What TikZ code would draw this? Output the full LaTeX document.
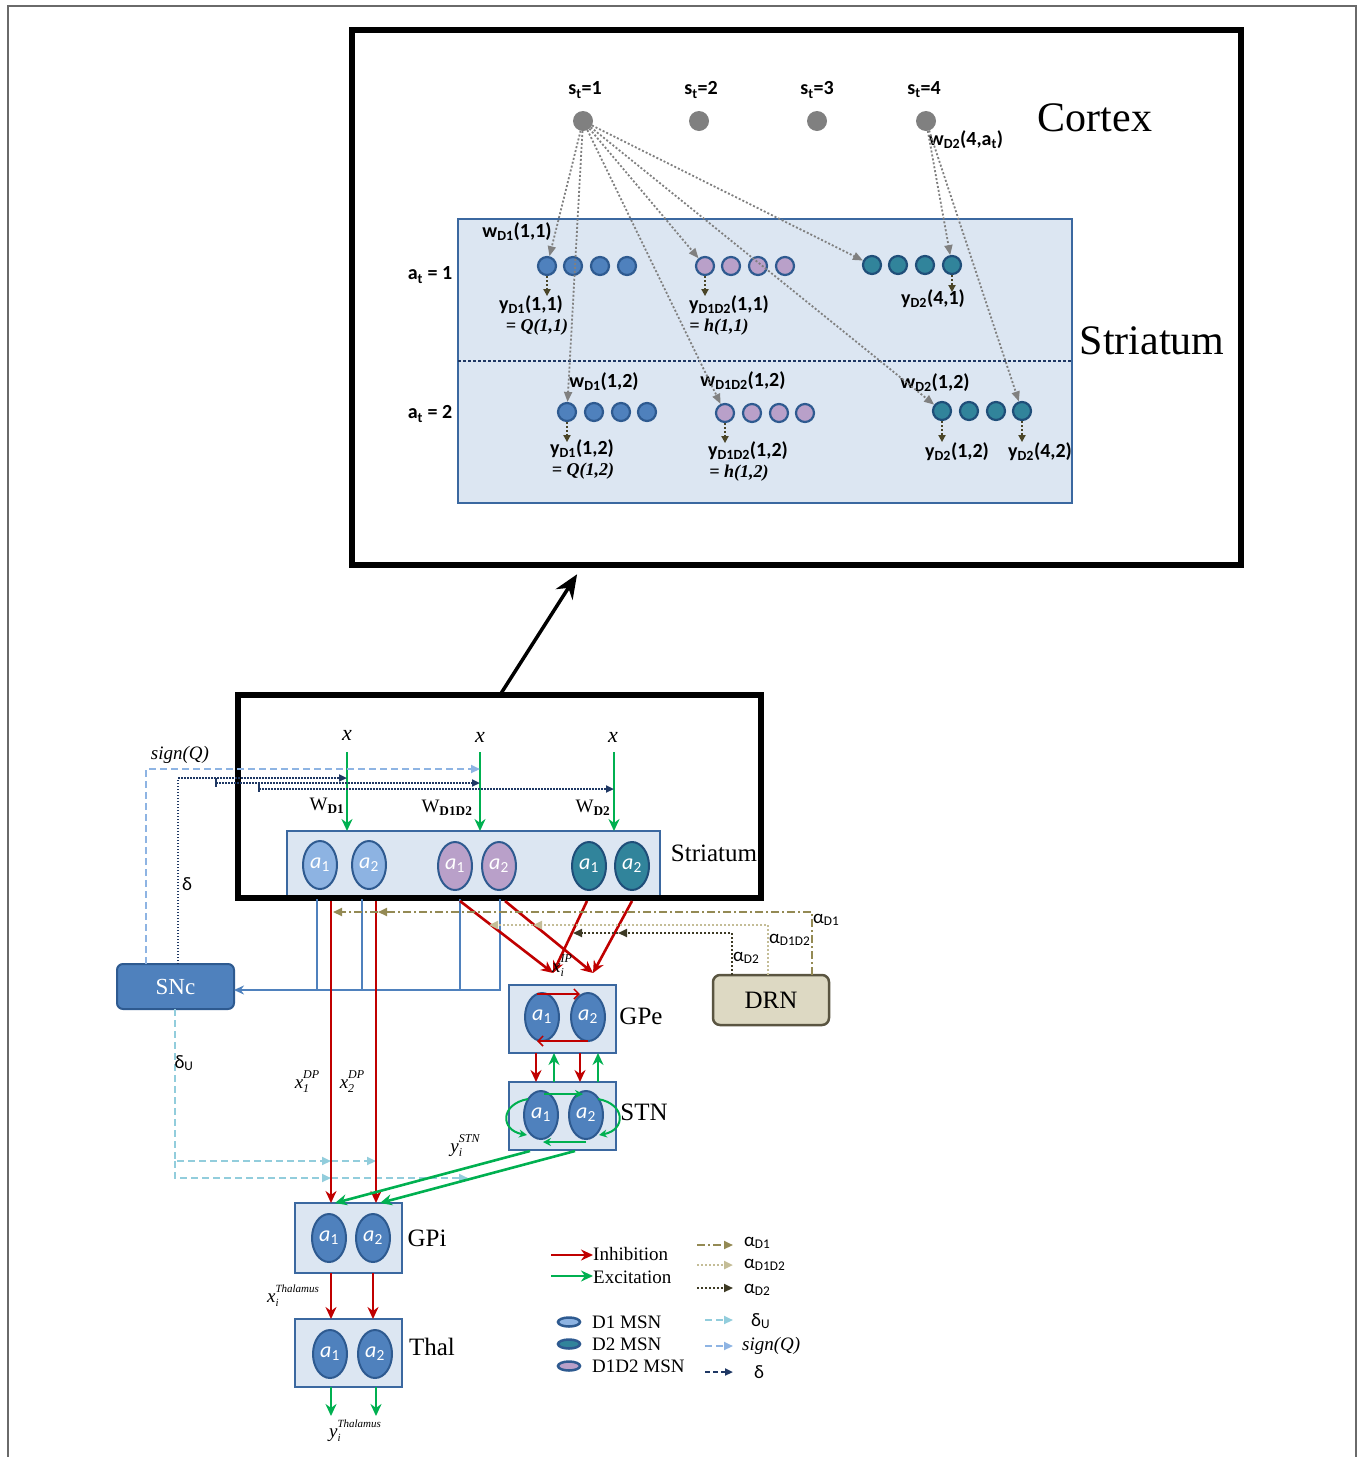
\documentclass[tikz,border=0pt]{standalone}
\usepackage{fontspec}
\setmainfont{Liberation Serif}
\newfontfamily\calib{Carlito}
\usetikzlibrary{arrows.meta,shapes.geometric,calc}
\definecolor{boxf}{HTML}{DCE6F2}
\definecolor{boxd}{HTML}{3B68A0}
\definecolor{d1f}{HTML}{4F81BD}
\definecolor{d1d}{HTML}{2E5A90}
\definecolor{d1l}{HTML}{8DB3E2}
\definecolor{pkf}{HTML}{B9A0C9}
\definecolor{tlf}{HTML}{31849B}
\definecolor{tld}{HTML}{1F4E79}
\definecolor{ctx}{HTML}{808080}
\definecolor{redc}{HTML}{C00000}
\definecolor{grnc}{HTML}{00B050}
\definecolor{drnf}{HTML}{DDD9C3}
\definecolor{drnd}{HTML}{5A5541}
\definecolor{aone}{HTML}{948A54}
\definecolor{atwo}{HTML}{C4BD97}
\definecolor{athree}{HTML}{3D3A24}
\definecolor{deltau}{HTML}{92CDDC}
\definecolor{signq}{HTML}{8EB4E3}
\definecolor{navyc}{HTML}{1F3864}
\definecolor{bluc}{HTML}{4F81BD}
\definecolor{yarrc}{HTML}{4A4528}
\definecolor{framec}{HTML}{6A6A6A}
\newcommand{\ssp}[4][12]{#2\rlap{\raisebox{-0.45ex}{\fontsize{#1}{#1}\selectfont #3}}\raisebox{1.15ex}{\fontsize{#1}{#1}\selectfont #4}}
\tikzset{
  cdot/.style={circle, fill=ctx, minimum size=20pt, inner sep=0pt, outer sep=0pt},
  mc/.style={circle, minimum size=18pt, inner sep=0pt, line width=2.2pt},
  mcb/.style={mc, fill=d1f, draw=d1d},
  mcp/.style={mc, fill=pkf, draw=d1d},
  mct/.style={mc, fill=tlf, draw=tld},
  ell/.style={ellipse, minimum width=34pt, minimum height=48pt, inner sep=0pt, line width=2pt, draw=d1d, text=white, font=\calib\itshape\fontsize{22}{22}\selectfont},
  ellb/.style={ell, fill=d1l},
  ellp/.style={ell, fill=pkf},
  ellt/.style={ell, fill=tlf, draw=tld},
  ellr/.style={ell, fill=d1f},
  sl/.style={font=\calib\bfseries\fontsize{20}{22}\selectfont, inner sep=1pt},
  sv/.style={font=\fontsize{18}{20}\selectfont\itshape\bfseries, inner sep=1pt},
  bl/.style={font=\fontsize{25}{28}\selectfont, inner sep=1pt},
  hl/.style={font=\fontsize{42}{46}\selectfont, inner sep=1pt},
  il/.style={font=\fontsize{19}{21}\selectfont\itshape, inner sep=1pt},
  gl/.style={font=\calib\fontsize{19}{21}\selectfont, inner sep=1pt},
  lg/.style={font=\fontsize{19}{21}\selectfont, inner sep=1pt, anchor=west},
  abox/.style={draw=boxd, fill=boxf, line width=2.2pt, inner sep=0pt, outer sep=0pt},
  gdot/.style={draw=ctx, line width=1.8pt, dash pattern=on 2pt off 2pt, -{Triangle[length=10pt,width=8pt]}},
  ydot/.style={draw=yarrc, line width=1.8pt, dash pattern=on 2pt off 2pt, -{Triangle[length=7pt,width=7pt]}},
  inh/.style={draw=redc, line width=2.6pt, -{Stealth[length=12pt,width=11pt]}},
  exc/.style={draw=grnc, line width=2.6pt, -{Stealth[length=12pt,width=11pt]}},
  inhs/.style={draw=redc, line width=1.5pt, -{Straight Barb[length=5pt,width=10pt]}},
  excs/.style={draw=grnc, line width=2pt, -{Stealth[length=8pt,width=8pt]}},
  bline/.style={draw=bluc, line width=1.8pt},
  sq/.style={draw=signq, line width=2pt, dash pattern=on 7pt off 4pt, -{Triangle[length=9pt,width=8pt]}},
  du/.style={draw=deltau, line width=2pt, dash pattern=on 7pt off 4pt, -{Triangle[length=9pt,width=8pt]}},
  dl/.style={draw=navyc, line width=2pt, dash pattern=on 1.5pt off 1.5pt, -{Triangle[length=8pt,width=7pt]}},
  ad1/.style={draw=aone, line width=2pt, dash pattern=on 8pt off 3pt on 2pt off 3pt, -{Triangle[length=9pt,width=8pt]}},
  ad12/.style={draw=atwo, line width=2.5pt, dash pattern=on 2pt off 2pt, -{Triangle[length=9pt,width=8pt]}},
  ad2/.style={draw=athree, line width=2pt, dash pattern=on 2pt off 2pt, -{Triangle[length=9pt,width=8pt]}},
}
\begin{document}
\begin{tikzpicture}[x=1pt,y=-1pt]
\useasboundingbox (0,0) rectangle (1360,1457);
\draw[framec, line width=1.5pt] (8,1457) -- (8,6) -- (1356,6) -- (1356,1457);

% ================= upper panel =================
\node[draw, line width=6pt, minimum width=889pt, minimum height=535pt, inner sep=0pt, outer sep=0pt] (big) at (796.5,297.5) {};
\node[abox, line width=2.5pt, minimum width=614pt, minimum height=284pt] (sbox) at (765,361) {};
\draw[navyc, line width=2.5pt, dash pattern=on 2.5pt off 2.5pt] (sbox.west) -- (sbox.east);

% cortex
\node[cdot] (s1) at (583,121) {};
\node[cdot] (s2) at (699,121) {};
\node[cdot] (s3) at (817,121) {};
\node[cdot] (s4) at (926,121) {};
\node[sl] (ls1) at (585,90) {s\textsubscript{t}=1};
\node[sl] (ls2) at (701,90) {s\textsubscript{t}=2};
\node[sl] (ls3) at (817,90) {s\textsubscript{t}=3};
\node[sl] (ls4) at (924,90) {s\textsubscript{t}=4};
\node[hl] (cortex) at (1095,118) {Cortex};
\node[hl] (striatumU) at (1152,341) {Striatum};
\node[sl] (at1) at (430,275) {a\textsubscript{t} = 1};
\node[sl] (at2) at (430,414) {a\textsubscript{t} = 2};

% MSN rows
\foreach \n/\x in {a/547,b/573,c/600,d/627} \node[mcb] (r1d1\n) at (\x,266) {};
\foreach \n/\x in {a/705,b/731,c/758,d/785} \node[mcp] (r1p\n) at (\x,266) {};
\foreach \n/\x in {a/872,b/898,c/925,d/952} \node[mct] (r1d2\n) at (\x,265) {};
\foreach \n/\x in {a/567,b/594,c/621,d/647} \node[mcb] (r2d1\n) at (\x,412) {};
\foreach \n/\x in {a/725,b/752,c/779,d/805} \node[mcp] (r2p\n) at (\x,413) {};
\foreach \n/\x in {a/942,b/969,c/996,d/1022} \node[mct] (r2d2\n) at (\x,411) {};

% outputs
\draw[ydot] (r1d1a.south) -- ++(0,20);
\draw[ydot] (r1pa.south) -- ++(0,20);
\draw[ydot] (r1d2d.south) -- ++(0,17);
\draw[ydot] (r2d1a.south) -- ++(0,20);
\draw[ydot] (r2pa.south) -- ++(0,20);
\draw[ydot] (r2d2a.south) -- ++(0,21);
\draw[ydot] (r2d2d.south) -- ++(0,21);

\node[sl] (y11) at (531,305) {y\textsubscript{D1}(1,1)};
\node[sv] (q11) at (537,327) {= Q(1,1)};
\node[sl] (h11) at (729,305) {y\textsubscript{D1D2}(1,1)};
\node[sv] (hh11) at (719,327) {= h(1,1)};
\node[sl] (y41) at (933,299) {y\textsubscript{D2}(4,1)};
\node[sl] (y12) at (582,449) {y\textsubscript{D1}(1,2)};
\node[sv] (q12) at (583,471) {= Q(1,2)};
\node[sl] (h12) at (748,451) {y\textsubscript{D1D2}(1,2)};
\node[sv] (hh12) at (739,473) {= h(1,2)};
\node[sl] (yd12) at (957,452) {y\textsubscript{D2}(1,2)};
\node[sl] (yd42) at (1040,452) {y\textsubscript{D2}(4,2)};

\node[sl] (w11) at (517,232) {w\textsubscript{D1}(1,1)};
\node[sl] (w12) at (604,382) {w\textsubscript{D1}(1,2)};
\node[sl] (wp12) at (743,381) {w\textsubscript{D1D2}(1,2)};
\node[sl] (wd12) at (935,383) {w\textsubscript{D2}(1,2)};
\node[sl] (wd4) at (966,140) {w\textsubscript{D2}(4,a\textsubscript{t})};

% cortex -> striatum weights
\draw[gdot] (s1) -- (r1d1a);
\draw[gdot] (s1) -- (r2d1a);
\draw[gdot] (s1) -- (r1pa);
\draw[gdot] (s1) -- (r2pa);
\draw[gdot] (s1) -- (r2d2a);
\draw[gdot] (s1) -- (r1d2a);
\draw[gdot] (s4) -- (r1d2d);
\draw[gdot] (s4) -- (r2d2d);

% ================= lower panel =================
\node[abox, minimum width=373pt, minimum height=66pt] (lstr) at (473.5,864) {};
\node[ellb] (sa1) at (320,865) {a\textsubscript{\upshape 1}};
\node[ellb] (sa2) at (369,865) {a\textsubscript{\upshape 2}};
\node[ellp] (sb1) at (455,866) {a\textsubscript{\upshape 1}};
\node[ellp] (sb2) at (499,866) {a\textsubscript{\upshape 2}};
\node[ellt] (sc1) at (589,866) {a\textsubscript{\upshape 1}};
\node[ellt] (sc2) at (632,866) {a\textsubscript{\upshape 2}};
\node[bl] (strL) at (714,853) {Striatum};

\node[draw, line width=6pt, minimum width=523pt, minimum height=203pt, inner sep=0pt, outer sep=0pt] (blk) at (499.5,796.5) {};
\draw[line width=3.5pt, -{Stealth[length=24pt,width=20pt]}, shorten >=11pt] (blk.north -| 500,0) -- (big.south -| 583,0);

% x inputs
\node[font=\fontsize{22}{24}\selectfont\itshape] (x1) at (347,735) {x};
\node[font=\fontsize{22}{24}\selectfont\itshape] (x2) at (480,737) {x};
\node[font=\fontsize{22}{24}\selectfont\itshape] (x3) at (613,737) {x};
\draw[exc] (347,752) -- (lstr.north -| 347,0);
\draw[exc] (480,752) -- (lstr.north -| 480,0);
\draw[exc] (614,752) -- (lstr.north -| 614,0);
\node[font=\fontsize{19}{21}\selectfont] (wd1) at (327,806) {W\textsubscript{\bfseries D1}};
\node[font=\fontsize{19}{21}\selectfont] (wd1d2) at (447,808) {W\textsubscript{\bfseries D1D2}};
\node[font=\fontsize{19}{21}\selectfont] (wd2) at (593,808) {W\textsubscript{\bfseries D2}};

% SNc and DRN
\node[draw=d1d, fill=d1f, line width=2pt, rounded corners=6pt, minimum width=117pt, minimum height=45pt, inner sep=0pt, outer sep=0pt, text=white, font=\fontsize{23}{25}\selectfont] (snc) at (175.5,986.5) {SNc};
\node[draw=drnd, fill=drnf, line width=2.5pt, rounded corners=7pt, minimum width=116pt, minimum height=50pt, inner sep=0pt, outer sep=0pt, font=\fontsize{25}{27}\selectfont] (drn) at (771,1000) {DRN};

% blue lines striatum -> SNc
\coordinate (bj) at (500,990);
\draw[bline] (317,899) -- (317,990);
\draw[bline] (362,899) -- (362,990);
\draw[bline] (460,899) -- (460,990);
\draw[bline, -{Stealth[length=10pt,width=9pt]}] (500,899) -- (bj) -- (snc.east |- bj);

% sign(Q)
\node[il] (sqlab) at (180,755) {sign(Q)};
\draw[sq] (snc.north -| 146,0) -- (146,769) -- (480,769);
% delta
\draw[dl] (snc.north -| 178,0) -- (178,778) -- (347,778);
\draw[dl] (216,783) -- (480,783);
\draw[dl] (259,789) -- (614,789);
\draw[navyc, line width=1.6pt] (216,778) -- (216,787);
\draw[navyc, line width=1.6pt] (259,783) -- (259,792);
\node[gl] (dlab) at (187,884) {δ};

% delta_U
\coordinate (du1) at (175,1161);
\coordinate (du2) at (175,1178);
\draw[du] (snc.south -| du1) -- (du1) -- (331,1161);
\draw[du] (331,1161) -- (376,1161);
\draw[du] (du1) -- (du2) -- (331,1178);
\draw[du] (331,1178) -- (468,1178);
\node[gl] (dulab) at (184,1063) {δ\textsubscript{U}};

% basal ganglia boxes
\node[abox, minimum width=107pt, minimum height=68pt] (gpe) at (562.5,1019) {};
\node[ellr] (gpe1) at (542,1017) {a\textsubscript{\upshape 1}};
\node[ellr] (gpe2) at (588,1017) {a\textsubscript{\upshape 2}};
\node[bl] (gpel) at (641,1016) {GPe};
\node[abox, minimum width=107pt, minimum height=68pt] (stn) at (562.5,1116) {};
\node[ellr] (stn1) at (541,1115) {a\textsubscript{\upshape 1}};
\node[ellr] (stn2) at (586,1115) {a\textsubscript{\upshape 2}};
\node[bl] (stnl) at (644,1112) {STN};
\node[abox, minimum width=107pt, minimum height=70pt] (gpi) at (348.5,1238) {};
\node[ellr] (gpi1) at (329,1238) {a\textsubscript{\upshape 1}};
\node[ellr] (gpi2) at (373,1238) {a\textsubscript{\upshape 2}};
\node[bl] (gpil) at (427,1238) {GPi};
\node[abox, minimum width=107pt, minimum height=68pt] (thal) at (348.5,1353) {};
\node[ellr] (th1) at (330,1354) {a\textsubscript{\upshape 1}};
\node[ellr] (th2) at (375,1354) {a\textsubscript{\upshape 2}};
\node[bl] (thl) at (432,1347) {Thal};

% direct pathway
\draw[inh] (331,901) -- (gpi.north -| 331,0);
\draw[inh] (376,901) -- (gpi.north -| 376,0);
\node[il] (xdp1) at (307,1082) {\ssp{x}{1}{DP}};
\node[il] (xdp2) at (352,1082) {\ssp{x}{2}{DP}};

% indirect pathway
\coordinate (ipL) at (553,973);
\coordinate (ipR) at (593,973);
\draw[inh] (460,901) -- (ipL);
\draw[inh] (505,901) -- (ipR);
\draw[inh] (587,901) -- (ipL);
\draw[inh] (632,901) -- (ipR);
\node[il] (xip) at (562,966) {\ssp{x}{i}{IP}};

% alpha lines from DRN
\draw[ad1] (drn.north -| 812,0) -- (812,912) -- (378,912);
\draw[ad1] (378,912) -- (333,912);
\draw[ad12] (drn.north -| 768,0) -- (768,925) -- (533,925);
\draw[ad12] (533,925) -- (489,925);
\draw[ad2] (drn.north -| 732,0) -- (732,933) -- (618,933);
\draw[ad2] (618,933) -- (573,933);
\node[gl, anchor=west] (la1) at (812,920) {α\textsubscript{D1}};
\node[gl, anchor=west] (la12) at (768,940) {α\textsubscript{D1D2}};
\node[gl, anchor=west] (la2) at (732,958) {α\textsubscript{D2}};

% GPe internal
\draw[inhs] (537,994) -- (580,994);
\draw[inhs] (588,1041) -- (537,1041);
% GPe <-> STN
\draw[inh] (gpe.south -| 536,0) -- (stn.north -| 536,0);
\draw[inh] (gpe.south -| 580,0) -- (stn.north -| 580,0);
\draw[exc] (stn.north -| 554,0) -- (gpe.south -| 554,0);
\draw[exc] (stn.north -| 598,0) -- (gpe.south -| 598,0);
% STN internal
\draw[excs] (544,1094) -- (583,1094);
\draw[excs] (586,1142) -- (543,1142);
\draw[excs] (528,1099) .. controls (500,1104) and (500,1130) .. (527,1135);
\draw[excs] (598,1099) .. controls (626,1104) and (626,1130) .. (599,1135);
% STN -> GPi
\draw[exc] (530,1151) -- (335,1203);
\draw[exc] (575,1151) -- (380,1203);
\node[il] (ystn) at (465,1146) {\ssp{y}{i}{STN}};

% GPi -> Thal -> out
\draw[inh] (gpi.south -| 331,0) -- (thal.north -| 331,0);
\draw[inh] (gpi.south -| 373,0) -- (thal.north -| 373,0);
\node[il] (xth) at (293,1296) {\ssp[11]{x}{i}{Thalamus}};
\draw[exc] (thal.south -| 331,0) -- (331,1416);
\draw[exc] (thal.south -| 376,0) -- (376,1416);
\node[il] (yth) at (355,1431) {\ssp[11]{y}{i}{Thalamus}};

% ================= legend =================
\draw[inh] (551,1255) -- (593,1255);
\node[lg] (linh) at (592,1254) {Inhibition};
\draw[exc] (551,1276) -- (593,1276);
\node[lg] (lexc) at (592,1277) {Excitation};
\node[ellipse, draw=d1d, fill=d1l, line width=2.5pt, minimum width=22pt, minimum height=9pt, inner sep=0pt] (e1) at (569,1322) {};
\node[ellipse, draw=d1d, fill=tlf, line width=2.5pt, minimum width=22pt, minimum height=9pt, inner sep=0pt] (e2) at (569,1344) {};
\node[ellipse, draw=d1d, fill=pkf, line width=2.5pt, minimum width=22pt, minimum height=9pt, inner sep=0pt] (e3) at (569,1366) {};
\node[lg] (le1) at (591,1322) {D1 MSN};
\node[lg] (le2) at (591,1344) {D2 MSN};
\node[lg] (le3) at (591,1366) {D1D2 MSN};
\draw[ad1] (697,1245) -- (733,1245);
\draw[ad12] (697,1265) -- (733,1265);
\draw[ad2] (697,1288) -- (733,1288);
\draw[du] (705,1320) -- (733,1320);
\draw[sq] (705,1346) -- (733,1346);
\draw[draw=navyc, line width=2pt, dash pattern=on 5pt off 3pt, -{Triangle[length=8pt,width=7pt]}] (705,1372) -- (733,1372);
\node[gl, anchor=west] (lla1) at (743,1243) {α\textsubscript{D1}};
\node[gl, anchor=west] (lla12) at (743,1265) {α\textsubscript{D1D2}};
\node[gl, anchor=west] (lla2) at (743,1290) {α\textsubscript{D2}};
\node[gl, anchor=west] (lldu) at (750,1321) {δ\textsubscript{U}};
\node[lg] (llsq) at (741,1346) {\itshape sign(Q)};
\node[gl, anchor=west] (lld) at (753,1372) {δ};
\end{tikzpicture}
\end{document}
